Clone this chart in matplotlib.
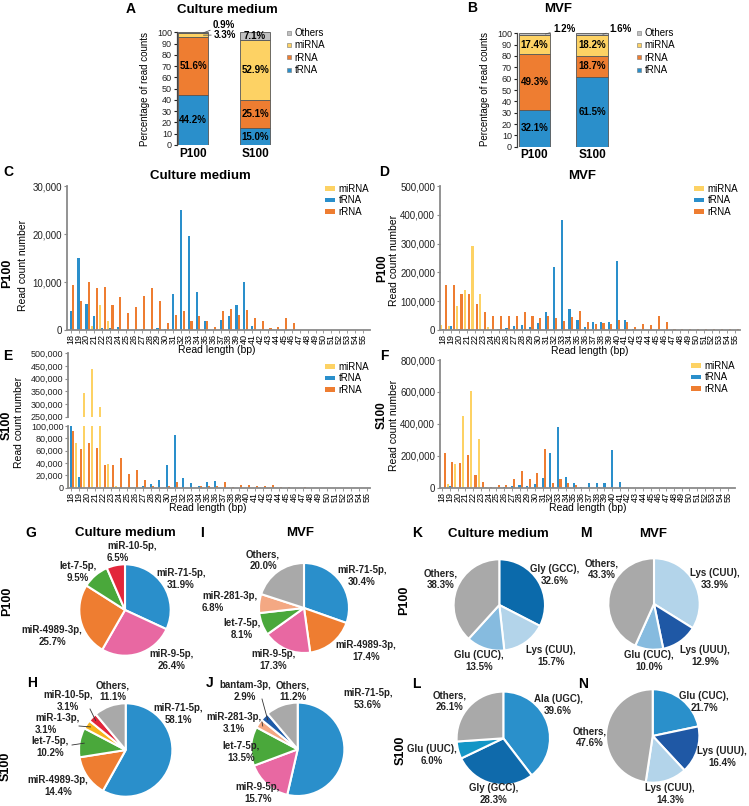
import matplotlib
matplotlib.use('Agg')
import matplotlib.pyplot as plt
from matplotlib.ticker import FuncFormatter
from matplotlib.patches import Patch
from matplotlib.lines import Line2D
import numpy as np

plt.rcParams['font.family'] = ['Liberation Sans', 'DejaVu Sans']

# ---------------- DATA ----------------
stack_groups = ['P100', 'S100']
# Panel A: culture medium
a_trna = [44.2, 15.0]
a_rrna = [51.6, 25.1]
a_mirna = [3.3, 52.9]
a_others = [0.9, 7.1]
# Panel B: MVF
b_trna = [32.1, 61.5]
b_rrna = [49.3, 18.7]
b_mirna = [17.4, 18.2]
b_others = [1.2, 1.6]

read_lengths = [18, 19, 20, 21, 22, 23, 24, 25, 26, 27, 28, 29, 30, 31, 32, 33, 34, 35, 36,
                37, 38, 39, 40, 41, 42, 43, 44, 45, 46, 47, 48, 49, 50, 51, 52, 53, 54, 55]

# Panel C: culture medium P100
c_mirna = [0, 0, 0, 900, 5300, 1900, 0, 0, 0, 0, 0, 0, 0, 0, 0, 0, 0, 0, 0,
           0, 0, 0, 0, 0, 0, 0, 0, 0, 0, 0, 0, 0, 0, 0, 0, 0, 0, 0]
c_trna = [3900, 15100, 5500, 3000, 400, 400, 700, 0, 0, 300, 0, 500, 300, 7400, 25000, 19500, 8000, 1800, 0,
          2000, 2900, 5200, 10100, 800, 0, 0, 0, 0, 0, 0, 0, 0, 0, 0, 0, 0, 0, 0]
c_rrna = [9300, 6100, 9900, 8700, 9000, 5300, 6900, 3500, 4700, 7000, 8700, 6000, 1400, 3200, 3900, 1900, 2900, 1900, 600,
          4000, 4400, 3100, 4100, 2600, 1900, 500, 700, 2500, 1500, 0, 0, 0, 0, 0, 0, 0, 0, 0]

# Panel D: MVF P100
d_mirna = [18000, 13000, 83000, 138000, 292000, 125000, 10000, 0, 0, 0, 0, 0, 0, 0, 0, 0, 0, 0, 0,
           0, 0, 0, 0, 0, 0, 0, 0, 0, 0, 0, 0, 0, 0, 0, 0, 0, 0, 0]
d_trna = [5000, 13000, 5000, 2000, 0, 0, 0, 5000, 8000, 13000, 17000, 10000, 23000, 62000, 220000, 383000, 72000, 33000, 12000,
          28000, 29000, 28000, 238000, 35000, 5000, 0, 0, 0, 0, 0, 0, 0, 0, 0, 0, 0, 0, 0]
d_rrna = [157000, 155000, 125000, 125000, 90000, 63000, 50000, 47000, 47000, 50000, 64000, 47000, 43000, 50000, 40000, 32000, 45000, 65000, 27000,
          20000, 25000, 22000, 35000, 27000, 10000, 20000, 17000, 50000, 29000, 5000, 4000, 4000, 3000, 3000, 3000, 2000, 2000, 2000]

# Panel E: culture medium S100
e_mirna = [84000, 73000, 341000, 439000, 287000, 38000, 2000, 0, 0, 0, 0, 0, 0, 0, 0, 0, 0, 0, 0,
           0, 0, 0, 0, 0, 0, 0, 0, 0, 0, 0, 0, 0, 0, 0, 0, 0, 0, 0]
e_trna = [101000, 18000, 0, 0, 0, 0, 0, 0, 0, 3000, 6000, 12000, 36000, 86000, 16000, 8000, 3000, 9000, 11000,
          0, 0, 0, 0, 0, 0, 0, 0, 0, 0, 0, 0, 0, 0, 0, 0, 0, 0, 0]
e_rrna = [92000, 62000, 72000, 64000, 36000, 36000, 48000, 23000, 28000, 13000, 3000, 0, 2000, 9000, 0, 0, 2000, 3000, 3000,
          9000, 1000, 5000, 5000, 2000, 2000, 5000, 1000, 1000, 0, 1000, 0, 0, 0, 0, 0, 0, 0, 0]

# Panel F: MVF S100
f_mirna = [65000, 25000, 148000, 450000, 605000, 305000, 5000, 0, 0, 0, 0, 0, 0, 0, 0, 0, 0, 0, 0,
           0, 0, 0, 0, 0, 0, 0, 0, 0, 0, 0, 0, 0, 0, 0, 0, 0, 0, 0]
f_trna = [0, 10000, 0, 0, 0, 0, 0, 0, 5000, 8000, 15000, 8000, 22000, 60000, 220000, 382000, 70000, 32000, 7000,
          27000, 27000, 27000, 237000, 35000, 0, 0, 0, 0, 0, 0, 0, 0, 0, 0, 0, 0, 0, 0]
f_rrna = [215000, 162000, 153000, 205000, 77000, 37000, 5000, 18000, 15000, 52000, 105000, 57000, 93000, 245000, 30000, 55000, 32000, 15000, 0,
          0, 5000, 0, 0, 0, 0, 0, 0, 0, 0, 0, 0, 0, 0, 0, 0, 0, 0, 0]

# Pie panels
g_labels = ['miR-71-5p', 'miR-9-5p', 'miR-4989-3p', 'let-7-5p', 'miR-10-5p']
g_values = [31.9, 26.4, 25.7, 9.5, 6.5]
i_labels = ['miR-71-5p', 'miR-4989-3p', 'miR-9-5p', 'let-7-5p', 'miR-281-3p', 'Others']
i_values = [30.4, 17.4, 17.3, 8.1, 6.8, 20.0]
h_labels = ['miR-71-5p', 'miR-4989-3p', 'let-7-5p', 'miR-1-3p', 'miR-10-5p', 'Others']
h_values = [58.1, 14.4, 10.2, 3.1, 3.1, 11.1]
j_labels = ['miR-71-5p', 'miR-9-5p', 'let-7-5p', 'miR-281-3p', 'bantam-3p', 'Others']
j_values = [53.6, 15.7, 13.5, 3.1, 2.9, 11.2]
k_labels = ['Gly (GCC)', 'Lys (CUU)', 'Glu (CUC)', 'Others']
k_values = [32.6, 15.7, 13.5, 38.3]
m_labels = ['Lys (CUU)', 'Lys (UUU)', 'Glu (CUC)', 'Others']
m_values = [33.9, 12.9, 10.0, 43.3]
l_labels = ['Ala (UGC)', 'Gly (GCC)', 'Glu (UUC)', 'Others']
l_values = [39.6, 28.3, 6.0, 26.1]
n_labels = ['Glu (CUC)', 'Lys (UUU)', 'Lys (CUU)', 'Others']
n_values = [21.7, 16.4, 14.3, 47.6]

# ---------------- STYLE ----------------
C_TRNA = '#2a8fcb'
C_RRNA = '#ee7d31'
C_MIRNA = '#fdd264'
C_OTH = '#c0c0c0'
AX_GRAY = '#8a8a8a'

mir_colors = {'miR-71-5p': '#2a8fcb', 'miR-9-5p': '#e868a2', 'miR-4989-3p': '#ee7d31',
              'let-7-5p': '#4aa83b', 'miR-10-5p': '#e2263b', 'miR-281-3p': '#f4a883',
              'miR-1-3p': '#f6b41c', 'bantam-3p': '#1f5ba8', 'Others': '#a9a9a9'}
k_colors = ['#0b6aab', '#b3d4ea', '#86bbdf', '#a9a9a9']
m_colors = ['#b3d4ea', '#1f58a5', '#86bbdf', '#a9a9a9']
l_colors = ['#2a90cb', '#0f6aab', '#1396c6', '#a9a9a9']
n_colors = ['#2a90cb', '#1f58a5', '#b3d4ea', '#a9a9a9']

W, H = 749, 806
fig = plt.figure(figsize=(W / 100, H / 100), dpi=100)


def ax_px(x0, y0, x1, y1):
    return fig.add_axes([x0 / W, 1 - y1 / H, (x1 - x0) / W, (y1 - y0) / H])


def ftext(x, y, s, **kw):
    return fig.text(x / W, 1 - y / H, s, **kw)


def fpt(x, y):
    return (x / W, 1 - y / H)


# ---------------- Stacked bars (A, B) ----------------
def stacked(ax, series, xlim, width, outside):
    x = np.arange(len(stack_groups))
    bottom = np.zeros(len(stack_groups))
    for name, vals, color in series:
        vals = np.array(vals)
        ax.bar(x, vals, width, bottom=bottom, color=color, edgecolor='#555555', linewidth=0.6, zorder=2)
        for i, v in enumerate(vals):
            if v >= 5:
                ax.text(x[i], bottom[i] + v / 2, f'{v:.1f}%', ha='center', va='center',
                        fontsize=7, fontweight='bold', zorder=3)
            else:
                key = (name, i)
                if key in outside:
                    tx, ty = outside[key]
                    ax.annotate(f'{v:.1f}%', xy=(x[i] + width * 0.35, bottom[i] + v / 2),
                                xytext=fpt(tx, ty), textcoords='figure fraction',
                                ha='left', va='center', fontsize=7, fontweight='bold',
                                arrowprops=dict(arrowstyle='-', lw=0.6, color='#555555',
                                                shrinkA=0, shrinkB=0))
        bottom = bottom + vals
    ax.set_xlim(*xlim)
    ax.set_ylim(0, 100)
    ax.set_yticks(range(0, 101, 10))
    ax.tick_params(axis='y', labelsize=6.5, length=2.5, width=0.8, pad=1, colors='#222222')
    ax.set_xticks(x)
    ax.set_xticklabels(stack_groups, fontsize=8.5, fontweight='bold')
    ax.tick_params(axis='x', length=0, pad=2)
    for s in ['top', 'right', 'bottom']:
        ax.spines[s].set_visible(False)
    ax.spines['left'].set_color('#444444')
    ax.spines['left'].set_linewidth(0.9)


def stack_legend(x, y):
    handles = [Line2D([], [], marker='s', ls='', color=c, markersize=3.5, markeredgecolor='#777777',
                      markeredgewidth=0.4) for c in [C_OTH, C_MIRNA, C_RRNA, C_TRNA]]
    fig.legend(handles, ['Others', 'miRNA', 'rRNA', 'tRNA'], loc='upper left',
               bbox_to_anchor=fpt(x, y), frameon=False, fontsize=7, handlelength=0.6,
               handletextpad=0.3, labelspacing=0.25, borderpad=0, borderaxespad=0)


axA = ax_px(176.7, 32.3, 275, 145)
stacked(axA, [('tRNA', a_trna, C_TRNA), ('rRNA', a_rrna, C_RRNA), ('miRNA', a_mirna, C_MIRNA),
              ('Others', a_others, C_OTH)], (-0.263, 1.32), 0.48,
        {('Others', 0): (213, 25), ('miRNA', 0): (214, 35)})
ftext(227, 10, 'Culture medium', ha='center', va='center', fontsize=9.5, fontweight='bold')
ftext(145, 89, 'Percentage of read counts', rotation=90, ha='center', va='center', fontsize=7)
stack_legend(286, 28)
ftext(131, 9, 'A', ha='center', va='center', fontsize=10, fontweight='bold')

axB = ax_px(516.7, 33.3, 615, 146.7)
stacked(axB, [('tRNA', b_trna, C_TRNA), ('rRNA', b_rrna, C_RRNA), ('miRNA', b_mirna, C_MIRNA),
              ('Others', b_others, C_OTH)], (-0.31, 1.4), 0.54,
        {('Others', 0): (553, 29), ('Others', 1): (609, 29)})
ftext(558, 9, 'MVF', ha='center', va='center', fontsize=9.5, fontweight='bold')
ftext(485, 89, 'Percentage of read counts', rotation=90, ha='center', va='center', fontsize=7)
stack_legend(636, 28)
ftext(472, 8, 'B', ha='center', va='center', fontsize=10, fontweight='bold')

# ---------------- Length distributions (C-F) ----------------
comma = FuncFormatter(lambda v, p: f'{int(round(v)):,}')
x_len = np.array(read_lengths)
BW = 0.27
OFF = 0.3


def draw_bars(ax, mi, t, r):
    ax.bar(x_len - OFF, mi, BW, color=C_MIRNA, linewidth=0)
    ax.bar(x_len, t, BW, color=C_TRNA, linewidth=0)
    ax.bar(x_len + OFF, r, BW, color=C_RRNA, linewidth=0)


def style_len_ax(ax, xlim, ylim, yticks, xaxis=True, ysize=7):
    ax.set_xlim(*xlim)
    ax.set_ylim(*ylim)
    ax.set_yticks(yticks)
    ax.yaxis.set_major_formatter(comma)
    ax.tick_params(axis='y', labelsize=ysize, length=2.5, width=0.8, pad=1, colors='#222222')
    ax.tick_params(axis='y', color=AX_GRAY)
    for s in ['top', 'right']:
        ax.spines[s].set_visible(False)
    ax.spines['left'].set_color(AX_GRAY)
    ax.spines['left'].set_linewidth(1.3)
    if xaxis:
        ax.set_xticks(x_len)
        ax.set_xticklabels([str(v) for v in read_lengths], rotation=90, fontsize=6.5)
        ax.tick_params(axis='x', length=2, width=0.6, pad=1, color=AX_GRAY)
        ax.spines['bottom'].set_color(AX_GRAY)
        ax.spines['bottom'].set_linewidth(1.3)
    else:
        ax.spines['bottom'].set_visible(False)
        ax.set_xticks([])


def len_legend(ax, x, y):
    handles = [Patch(facecolor=c, edgecolor='none') for c in [C_MIRNA, C_TRNA, C_RRNA]]
    ax.legend(handles, ['miRNA', 'tRNA', 'rRNA'], loc='upper right', bbox_to_anchor=fpt(x, y),
              bbox_transform=fig.transFigure, frameon=False, fontsize=7, handlelength=1.0,
              handleheight=0.35, handletextpad=0.35, labelspacing=0.15, borderpad=0, borderaxespad=0)


# C
axC = ax_px(66.7, 186, 370, 330)
draw_bars(axC, c_mirna, c_trna, c_rrna)
style_len_ax(axC, (17.5, 55.9), (0, 30000), [0, 10000, 20000, 30000])
len_legend(axC, 369, 184)
ftext(200, 176, 'Culture medium', ha='center', va='center', fontsize=9.5, fontweight='bold')
ftext(217, 350, 'Read length (bp)', ha='center', va='center', fontsize=7.5)
ftext(23, 265, 'Read count number', rotation=90, ha='center', va='center', fontsize=7.5)
ftext(7, 273, 'P100', rotation=90, ha='center', va='center', fontsize=9, fontweight='bold')
ftext(8, 172, 'C', ha='center', va='center', fontsize=10, fontweight='bold')

# D
axD = ax_px(440, 186, 740, 330)
draw_bars(axD, d_mirna, d_trna, d_rrna)
style_len_ax(axD, (17.58, 55.6), (0, 500000), [0, 100000, 200000, 300000, 400000, 500000])
len_legend(axD, 738, 184)
ftext(582, 176, 'MVF', ha='center', va='center', fontsize=9.5, fontweight='bold')
ftext(590, 351, 'Read length (bp)', ha='center', va='center', fontsize=7.5)
ftext(394, 260, 'Read count number', rotation=90, ha='center', va='center', fontsize=7.5)
ftext(382, 268, 'P100', rotation=90, ha='center', va='center', fontsize=8.5, fontweight='bold')
ftext(384, 172, 'D', ha='center', va='center', fontsize=10, fontweight='bold')

# E (broken axis)
axEu = ax_px(68.3, 353.3, 370, 416.5)
draw_bars(axEu, e_mirna, e_trna, e_rrna)
style_len_ax(axEu, (17.7, 55.4), (250000, 500000), [250000, 300000, 350000, 400000, 450000, 500000],
             xaxis=False, ysize=6.5)
axEl = ax_px(68.3, 426, 370, 487.7)
draw_bars(axEl, e_mirna, e_trna, e_rrna)
style_len_ax(axEl, (17.7, 55.4), (0, 100000), [0, 20000, 40000, 60000, 80000, 100000], ysize=6.5)
len_legend(axEl, 369, 362)
ftext(208, 508, 'Read length (bp)', ha='center', va='center', fontsize=7.5)
ftext(19, 422, 'Read count number', rotation=90, ha='center', va='center', fontsize=7.5)
ftext(7, 425, 'S100', rotation=90, ha='center', va='center', fontsize=9, fontweight='bold')
ftext(8, 356, 'E', ha='center', va='center', fontsize=10, fontweight='bold')

# F
axF = ax_px(440, 360, 735, 487.7)
draw_bars(axF, f_mirna, f_trna, f_rrna)
style_len_ax(axF, (17.7, 55.9), (0, 800000), [0, 200000, 400000, 600000, 800000])
len_legend(axF, 735, 361)
ftext(588, 508, 'Read length (bp)', ha='center', va='center', fontsize=7.5)
ftext(394, 425, 'Read count number', rotation=90, ha='center', va='center', fontsize=7.5)
ftext(382, 415, 'S100', rotation=90, ha='center', va='center', fontsize=8.5, fontweight='bold')
ftext(384, 356, 'F', ha='center', va='center', fontsize=10, fontweight='bold')


# ---------------- Pies (G-N) ----------------
def pie(cx, cy, R, labels, values, colors, label_pos, leaders=None):
    ax = ax_px(cx - R, cy - R, cx + R, cy + R)
    wedges, _ = ax.pie(values, colors=colors, startangle=90, counterclock=False, radius=1,
                       wedgeprops=dict(edgecolor='white', linewidth=1.5))
    ax.set_xlim(-1, 1)
    ax.set_ylim(-1, 1)
    ax.set_aspect('equal')
    ax.axis('off')
    for i, (lab, v) in enumerate(zip(labels, values)):
        px, py, ha = label_pos[i]
        ax.text(px, py, f'{lab},\n{v:.1f}%', ha=ha, va='center', multialignment=ha,
                fontsize=7, fontweight='bold', linespacing=1.2, color='#222222', clip_on=False)
    if leaders:
        for i, (sx, sy) in leaders.items():
            w = wedges[i]
            ang = np.deg2rad((w.theta1 + w.theta2) / 2)
            ax.plot([sx, 0.9 * np.cos(ang)], [sy, 0.9 * np.sin(ang)], color='#333333', lw=0.6,
                    clip_on=False, zorder=5)
    return ax


def rel(cx, cy, R, x, y, ha='center'):
    return ((x - cx) / R, (cy - y) / R, ha)


# G
cx, cy, R = 125, 610, 45.7
pie(cx, cy, R, g_labels, g_values, [mir_colors[l] for l in g_labels],
    [rel(cx, cy, R, 181, 579), rel(cx, cy, R, 172, 660), rel(cx, cy, R, 52, 636),
     rel(cx, cy, R, 77.5, 572), rel(cx, cy, R, 107, 552, 'left')])
ftext(125, 533, 'Culture medium', ha='center', va='center', fontsize=9.5, fontweight='bold')
ftext(31, 533, 'G', ha='center', va='center', fontsize=10, fontweight='bold')
ftext(7, 601, 'P100', rotation=90, ha='center', va='center', fontsize=9, fontweight='bold')

# I
cx, cy, R = 304, 608, 45
pie(cx, cy, R, i_labels, i_values, [mir_colors[l] for l in i_labels],
    [rel(cx, cy, R, 362, 576), rel(cx, cy, R, 366, 651), rel(cx, cy, R, 273, 660),
     rel(cx, cy, R, 242, 629), rel(cx, cy, R, 202, 602, 'left'), rel(cx, cy, R, 263, 560)])
ftext(300, 533, 'MVF', ha='center', va='center', fontsize=9.5, fontweight='bold')
ftext(202, 533, 'I', ha='center', va='center', fontsize=10, fontweight='bold')

# H
cx, cy, R = 125.7, 750, 46.7
pie(cx, cy, R, h_labels, h_values, [mir_colors[l] for l in h_labels],
    [rel(cx, cy, R, 178, 714), rel(cx, cy, R, 58, 786), rel(cx, cy, R, 50, 747),
     rel(cx, cy, R, 35, 724, 'left'), rel(cx, cy, R, 68, 701), rel(cx, cy, R, 113, 691)],
    leaders={2: ((72 - cx) / R, (cy - 745) / R), 3: ((79 - cx) / R, (cy - 726) / R),
             4: ((90 - cx) / R, (cy - 709) / R)})
ftext(32, 683, 'H', ha='center', va='center', fontsize=10, fontweight='bold')
ftext(6, 766, 'S100', rotation=90, ha='center', va='center', fontsize=9, fontweight='bold')

# J
cx, cy, R = 297.7, 749.3, 46.7
pie(cx, cy, R, j_labels, j_values, [mir_colors[l] for l in j_labels],
    [rel(cx, cy, R, 368, 699), rel(cx, cy, R, 258, 793), rel(cx, cy, R, 241, 752),
     rel(cx, cy, R, 234, 723), rel(cx, cy, R, 245, 691), rel(cx, cy, R, 293, 691)],
    leaders={3: ((262 - cx) / R, (cy - 722) / R), 4: ((262 - cx) / R, (cy - 699) / R)})
ftext(210, 683, 'J', ha='center', va='center', fontsize=10, fontweight='bold')

# K
cx, cy, R = 499.3, 605, 45.7
pie(cx, cy, R, k_labels, k_values, k_colors,
    [rel(cx, cy, R, 555, 575), rel(cx, cy, R, 551, 656), rel(cx, cy, R, 479, 661),
     rel(cx, cy, R, 441, 579)])
ftext(498, 534, 'Culture medium', ha='center', va='center', fontsize=9.5, fontweight='bold')
ftext(417, 533, 'K', ha='center', va='center', fontsize=10, fontweight='bold')
ftext(404, 600, 'P100', rotation=90, ha='center', va='center', fontsize=9, fontweight='bold')

# M
cx, cy, R = 654, 604, 45.7
pie(cx, cy, R, m_labels, m_values, m_colors,
    [rel(cx, cy, R, 715, 579), rel(cx, cy, R, 705, 656), rel(cx, cy, R, 649, 661),
     rel(cx, cy, R, 602, 569)])
ftext(653, 534, 'MVF', ha='center', va='center', fontsize=9.5, fontweight='bold')
ftext(586, 533, 'M', ha='center', va='center', fontsize=10, fontweight='bold')

# L
cx, cy, R = 503.3, 738.3, 46.7
pie(cx, cy, R, l_labels, l_values, l_colors,
    [rel(cx, cy, R, 558, 705), rel(cx, cy, R, 494, 794), rel(cx, cy, R, 432, 755),
     rel(cx, cy, R, 450, 701)])
ftext(416, 684, 'L', ha='center', va='center', fontsize=10, fontweight='bold')
ftext(401, 750, 'S100', rotation=90, ha='center', va='center', fontsize=9, fontweight='bold')

# N
cx, cy, R = 652.7, 736, 46.7
pie(cx, cy, R, n_labels, n_values, n_colors,
    [rel(cx, cy, R, 704, 702), rel(cx, cy, R, 722, 757), rel(cx, cy, R, 670, 794),
     rel(cx, cy, R, 590, 737)])
ftext(583, 684, 'N', ha='center', va='center', fontsize=10, fontweight='bold')

fig.savefig('out.png', dpi=100)
